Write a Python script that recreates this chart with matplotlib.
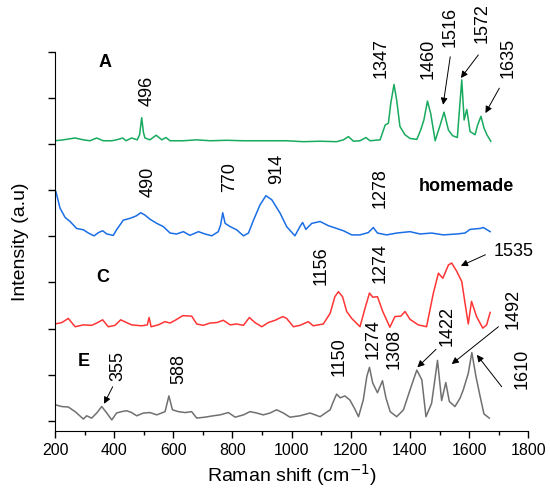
import matplotlib
matplotlib.use("Agg")
from matplotlib import pyplot as plt
import numpy as np

plt.rcParams['font.family'] = ['Liberation Sans', 'DejaVu Sans']

# spectrum A (green), offset already included
green_x = [200, 228, 268, 296, 318, 341, 363, 392, 408, 429, 440, 459, 478, 486, 493,
           499, 504, 521, 542, 561, 575, 589, 634, 679, 724, 780, 837, 882, 921, 983,
           1039, 1096, 1152, 1175, 1192, 1209, 1231, 1251, 1265, 1299, 1316, 1327,
           1335, 1346, 1355, 1366, 1383, 1400, 1423, 1436, 1447, 1459, 1470, 1485,
           1502, 1515, 1530, 1544, 1560, 1575, 1583, 1592, 1603, 1620, 1628, 1640,
           1650, 1660, 1673]
green_y = [6.07, 6.09, 6.13, 6.09, 6.07, 6.13, 6.07, 6.07, 6.09, 6.13, 6.07, 6.13, 6.09,
           6.20, 6.57, 6.25, 6.13, 6.09, 6.19, 6.09, 6.14, 6.07, 6.07, 6.09, 6.07, 6.08,
           6.07, 6.07, 6.07, 6.07, 6.05, 6.06, 6.05, 6.09, 6.16, 6.06, 6.07, 6.14, 6.07,
           6.09, 6.41, 6.45, 6.88, 7.29, 6.95, 6.38, 6.20, 6.12, 6.10, 6.30, 6.52, 6.93,
           6.66, 6.07, 6.41, 6.69, 6.30, 6.18, 6.14, 7.39, 6.52, 6.75, 6.27, 6.20, 6.40,
           6.60, 6.35, 6.20, 6.06]

# homemade (blue)
blue_x = [200, 203, 217, 234, 251, 273, 296, 313, 332, 347, 361, 375, 397, 408, 431,
          454, 474, 490, 504, 521, 544, 566, 589, 611, 634, 656, 685, 707, 730, 752,
          760, 767, 775, 792, 814, 837, 854, 871, 893, 913, 933, 961, 983, 1011, 1028,
          1037, 1048, 1068, 1096, 1124, 1152, 1175, 1203, 1231, 1259, 1276, 1290, 1321,
          1355, 1400, 1434, 1473, 1513, 1558, 1586, 1603, 1637, 1648, 1671]
blue_y = [4.99, 4.97, 4.61, 4.41, 4.32, 4.17, 4.14, 4.07, 4.01, 4.08, 4.12, 4.05, 4.02,
          4.14, 4.35, 4.39, 4.44, 4.51, 4.46, 4.37, 4.28, 4.21, 4.07, 4.05, 4.10, 4.02,
          4.10, 4.05, 4.01, 4.10, 4.25, 4.51, 4.28, 4.21, 4.14, 4.01, 4.07, 4.35, 4.68,
          4.88, 4.79, 4.50, 4.21, 4.01, 4.21, 4.30, 4.15, 4.28, 4.32, 4.23, 4.17, 4.12,
          4.03, 4.03, 4.08, 4.19, 4.07, 4.03, 4.07, 4.10, 4.05, 4.07, 4.03, 4.05, 4.07,
          4.15, 4.17, 4.19, 4.10]

# C (red)
red_x = [200, 223, 245, 268, 296, 324, 341, 361, 380, 403, 422, 442, 459, 493, 512,
         518, 525, 549, 572, 589, 609, 632, 662, 679, 701, 724, 747, 769, 792, 814,
         837, 857, 876, 899, 921, 944, 970, 983, 1006, 1028, 1056, 1073, 1107, 1130,
         1146, 1158, 1172, 1186, 1203, 1231, 1248, 1263, 1274, 1290, 1308, 1332, 1349,
         1369, 1383, 1400, 1428, 1456, 1479, 1496, 1511, 1530, 1541, 1558, 1575, 1586,
         1597, 1608, 1625, 1646, 1659, 1671]
red_y = [2.10, 2.13, 2.22, 2.04, 2.08, 2.07, 2.12, 2.19, 2.04, 2.07, 2.19, 2.13, 2.08,
         2.06, 2.08, 2.24, 2.04, 2.08, 2.15, 2.12, 2.19, 2.28, 2.27, 2.10, 2.07, 2.12,
         2.13, 2.18, 2.08, 2.10, 2.07, 2.24, 2.13, 2.04, 2.13, 2.18, 2.26, 2.22, 2.04,
         2.07, 2.15, 2.06, 2.10, 2.33, 2.69, 2.80, 2.69, 2.37, 2.22, 2.04, 2.44, 2.77,
         2.68, 2.69, 2.37, 2.03, 2.26, 2.27, 2.37, 2.20, 2.08, 2.04, 2.77, 3.20, 3.09,
         3.38, 3.42, 3.24, 3.02, 2.55, 2.10, 2.59, 2.26, 2.01, 2.08, 2.35]

# E (gray)
gray_x = [200, 223, 245, 268, 296, 307, 324, 341, 358, 375, 392, 408, 425, 442, 459,
          476, 499, 521, 544, 572, 585, 597, 617, 640, 662, 679, 707, 735, 758, 786,
          809, 837, 859, 882, 904, 927, 949, 972, 994, 1028, 1062, 1096, 1130, 1141,
          1152, 1164, 1180, 1197, 1214, 1226, 1242, 1254, 1263, 1274, 1290, 1307, 1319,
          1333, 1355, 1378, 1400, 1423, 1440, 1454, 1473, 1493, 1507, 1521, 1533, 1552,
          1569, 1580, 1597, 1609, 1623, 1637, 1650, 1668]
gray_y = [0.35, 0.31, 0.30, 0.20, 0.04, 0.11, 0.06, 0.17, 0.31, 0.17, 0.02, 0.17, 0.20,
          0.22, 0.18, 0.11, 0.17, 0.18, 0.13, 0.20, 0.54, 0.24, 0.20, 0.18, 0.20, 0.06,
          0.08, 0.11, 0.13, 0.18, 0.08, 0.13, 0.20, 0.17, 0.13, 0.17, 0.24, 0.17, 0.08,
          0.11, 0.17, 0.09, 0.24, 0.42, 0.58, 0.50, 0.54, 0.45, 0.25, 0.09, 0.45, 0.96,
          1.16, 0.82, 0.61, 0.87, 0.49, 0.20, 0.09, 0.24, 0.67, 1.10, 0.89, 0.09, 0.38,
          1.31, 0.44, 0.83, 0.42, 0.31, 0.49, 0.67, 1.03, 1.48, 0.96, 0.53, 0.15, 0.06]

# peak labels: text, x, y
num_labels = [("496", 513, 7.15), ("1347", 1303, 7.86), ("1460", 1461, 7.84),
              ("1516", 1536, 8.54), ("1572", 1643, 8.62), ("1635", 1732, 7.87),
              ("490", 515, 5.17), ("770", 789, 5.28), ("914", 950, 5.46),
              ("1278", 1299, 5.05),
              ("1156", 1101, 3.36), ("1274", 1299, 3.42),
              ("355", 411, 1.19), ("588", 618, 1.13), ("1150", 1161, 1.39),
              ("1274", 1274, 1.78), ("1308", 1346, 1.56), ("1422", 1524, 2.06),
              ("1492", 1749, 2.43), ("1610", 1778, 1.13)]
# arrows: tail x, tail y, head x, head y
arrows = [(1536, 7.89, 1512, 6.85), (1631, 7.93, 1572, 7.43), (1702, 7.21, 1655, 6.67),
          (1655, 3.60, 1572, 3.36), (395, 0.74, 366, 0.37), (1488, 1.55, 1425, 1.16),
          (1699, 2.04, 1541, 1.23), (1710, 0.74, 1626, 1.43)]
names = [("A", 369, 7.76), ("homemade", 1592, 5.08), ("C", 363, 3.10), ("E", 296, 1.29)]

fig = plt.figure(figsize=(5.5, 4.98), dpi=100)
ax = fig.add_axes([0.1, 0.1345, 0.8606, 0.7617])

ax.plot(green_x, green_y, color='#18aa5e', lw=1.1)
ax.plot(blue_x, blue_y, color='#1a6ee6', lw=1.1)
ax.plot(red_x, red_y, color='#ff3535', lw=1.1)
ax.plot(gray_x, gray_y, color='#707070', lw=1.1)

for t, x, y in num_labels:
    ax.text(x, y, t, rotation=90, ha='center', va='center', fontsize=13, clip_on=False)
ax.text(1749, 3.67, "1535", ha='center', va='center', fontsize=13)
for x0, y0, x1, y1 in arrows:
    ax.annotate('', xy=(x1, y1), xytext=(x0, y0),
                arrowprops=dict(arrowstyle='-|>', color='black', lw=0.7,
                                mutation_scale=10, shrinkA=0, shrinkB=0))
for t, x, y in names:
    ax.text(x, y, t, ha='center', va='center', fontsize=13, fontweight='bold')

ax.set_xlim(200, 1800)
ax.set_ylim(-0.22, 8)
ax.set_xticks(np.arange(200, 1801, 200))
ax.set_xticks(np.arange(300, 1800, 200), minor=True)
ax.set_yticks(np.arange(0, 9, 1))
ax.set_yticklabels([])
ax.spines['top'].set_visible(False)
ax.spines['right'].set_visible(False)
ax.tick_params(axis='both', which='major', direction='out', length=5, width=1,
               labelsize=11.5)
ax.tick_params(axis='x', which='minor', direction='out', length=3, width=1)
ax.set_xlabel('Raman shift (cm$^{-1}$)', fontsize=14, labelpad=3)
ax.set_ylabel('Intensity (a.u)', fontsize=14, labelpad=10)

plt.savefig('out.png', dpi=100)
